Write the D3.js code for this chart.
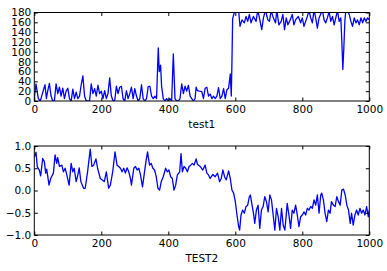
<!DOCTYPE html>
<html><head><meta charset="utf-8">
<script src="https://cdn.jsdelivr.net/npm/d3@7/dist/d3.min.js"></script>
<style>
body{margin:0;background:#fff}
svg{display:block}
text{font-family:"DejaVu Sans",sans-serif;font-size:10.5px;fill:#000}
</style>
</head><body>
<svg id="c" width="387" height="271"></svg>
<script>
const test1X = [0,5,8,12,18,22,28,32,36,40,45,50,55,60,65,70,75,80,85,90,95,100,105,110,115,120,125,130,135,140,145,150,155,160,165,170,175,180,185,190,195,200,205,210,215,220,225,230,235,240,245,250,255,260,265,270,275,280,285,290,295,300,305,310,315,320,325,330,335,340,345,350,355,360,365,370,373,377,380,385,390,395,400,405,410,415,418,420,425,430,435,440,445,450,455,460,465,470,475,480,483,487,493,500,505,510,515,520,525,530,535,540,545,550,555,560,565,570,575,580,585,588,590,592,595,598,602,605,610,614,620,627,632,637,642,647,654,662,667,672,679,684,690,697,702,707,712,720,724,730,737,742,747,752,757,764,770,775,780,788,795,800,805,810,815,820,825,830,835,840,845,850,860,865,870,875,880,885,890,895,900,905,910,915,918,921,924,927,930,935,940,945,950,955,960,965,970,975,980,985,990,995,1000];
const test1Y = [5,35,22,5,0,10,24,33,5,20,36,10,0,0,35,15,28,10,26,5,20,26,5,0,24,5,18,5,10,33,51,10,0,0,0,35,15,25,10,32,15,20,5,21,5,15,47,10,0,0,30,15,28,30,5,0,21,5,15,28,5,25,10,0,5,33,5,0,5,29,30,10,5,10,5,108,60,73,30,5,0,5,0,5,0,96,40,5,0,0,5,35,15,30,20,32,10,5,0,5,28,21,20,19,5,26,28,10,14,5,10,5,10,27,5,10,25,5,23,26,55,10,80,167,175,182,188,185,183,152,165,159,172,162,176,159,172,162,185,169,145,169,185,165,162,184,172,159,185,155,162,176,145,169,155,165,176,155,165,172,159,169,152,162,172,184,169,159,185,169,148,169,185,165,159,169,182,162,172,155,169,184,162,169,121,64,108,162,185,185,176,162,152,169,159,165,155,169,159,169,162,169,165];

const test2X = [0,5,9,15,19,25,30,34,37,44,49,57,62,67,70,75,82,87,92,97,104,110,115,119,125,130,134,139,147,152,159,167,172,177,184,189,197,202,209,215,222,227,234,241,247,252,257,262,267,272,277,282,287,290,297,302,307,312,317,323,329,334,338,344,349,354,359,364,369,374,379,385,392,397,402,407,412,417,422,427,434,438,442,447,452,457,462,467,472,477,483,487,495,503,510,515,520,525,533,540,547,553,558,563,568,573,580,585,590,595,600,605,610,613,617,622,627,632,637,642,645,650,655,658,663,668,673,678,683,688,693,698,703,708,713,718,723,728,733,738,743,748,755,760,765,770,775,780,785,790,795,800,805,810,815,820,825,830,835,840,845,850,855,858,863,868,873,878,883,887,893,898,903,908,913,918,923,928,933,938,943,947,952,957,962,967,972,977,982,987,992,997,1000];
const test2Y = [0.75,0.86,0.53,0.46,0.33,0.72,0.65,0.39,0.48,0.12,0.27,0.39,0.8,0.61,0.74,0.54,0.57,0.42,0.5,0.35,0.12,0.61,0.42,0.5,0.2,0.35,0.51,0.2,0.05,0.05,0.42,0.93,0.54,0.57,0.71,0.5,0.27,0.24,0.2,0.42,0.05,0.12,0.42,0.87,0.57,0.54,0.5,0.42,0.5,0.39,0.51,0.42,0.27,0.12,0.5,0.54,0.46,0.5,0.35,0.08,0.42,0.69,0.87,0.57,0.61,0.5,0.46,0.31,0.05,0.01,0.2,0.31,0.5,0.42,0.46,0.31,0.27,0.01,0.12,0.35,0.42,0.83,0.42,0.54,0.5,0.42,0.54,0.57,0.61,0.57,0.71,0.59,0.54,0.46,0.57,0.39,0.35,0.27,0.36,0.31,0.39,0.2,0.27,0.46,0.31,0.24,0.44,0.27,0.01,-0.06,-0.25,-0.55,-0.81,-0.89,-0.55,-0.44,-0.51,-0.36,-0.33,-0.14,-0.1,-0.33,-0.55,-0.74,-0.44,-0.33,-0.85,-0.44,-0.36,-0.14,-0.25,-0.48,-0.1,-0.21,-0.55,-0.89,-0.4,-0.59,-0.89,-0.4,-0.78,-0.89,-0.29,-0.55,-0.85,-0.44,-0.51,-0.33,-0.55,-0.81,-0.59,-0.55,-0.48,-0.55,-0.4,-0.44,-0.36,-0.4,-0.21,-0.33,-0.1,-0.51,-0.1,-0.06,-0.21,-0.51,-0.7,-0.44,-0.51,-0.25,-0.33,-0.36,-0.14,-0.25,-0.33,0.01,0.03,-0.1,-0.33,-0.44,-0.74,-0.51,-0.78,-0.55,-0.44,-0.55,-0.4,-0.51,-0.44,-0.55,-0.36,-0.59,-0.44];

const xTicks = [0,200,400,600,800,1000];
const test1Ticks = [0,20,40,60,80,100,120,140,160,180];
const test2Ticks = [-1,-0.5,0,0.5,1];
const test1Label = "test1";
const test2Label = "TEST2";

const svg = d3.select("#c");
const left = 34.3, right = 369.3;

function panel(id, top, bottom, xs, ys, domain, ticks, fmt, label, labelY){
  const x = d3.scaleLinear().domain([0,1000]).range([left,right]);
  const y = d3.scaleLinear().domain(domain).range([bottom,top]);
  svg.append("clipPath").attr("id",id).append("rect")
    .attr("x",left).attr("y",top).attr("width",right-left).attr("height",bottom-top);
  const data = xs.map((v,i)=>[v,ys[i]]);
  svg.append("path").datum(data)
    .attr("clip-path",`url(#${id})`)
    .attr("fill","none").attr("stroke","#0000ff").attr("stroke-width",1.3)
    .attr("stroke-linejoin","round")
    .attr("d", d3.line().x(d=>x(d[0])).y(d=>y(d[1])));
  const ts = 3.5;
  const gb = svg.append("g").attr("transform",`translate(0,${bottom})`)
    .call(d3.axisBottom(x).tickValues(xTicks).tickSizeInner(-ts).tickSizeOuter(0).tickPadding(5).tickFormat(d3.format("d")));
  const gt = svg.append("g").attr("transform",`translate(0,${top})`)
    .call(d3.axisTop(x).tickValues(xTicks).tickSizeInner(-ts).tickSizeOuter(0).tickFormat(""));
  const gl = svg.append("g").attr("transform",`translate(${left},0)`)
    .call(d3.axisLeft(y).tickValues(ticks).tickSizeInner(-ts).tickSizeOuter(0).tickPadding(3).tickFormat(fmt));
  const gr = svg.append("g").attr("transform",`translate(${right},0)`)
    .call(d3.axisRight(y).tickValues(ticks).tickSizeInner(-ts).tickSizeOuter(0).tickFormat(""));
  [gb,gt,gl,gr].forEach(g=>{
    g.select(".domain").remove();
    g.selectAll("line").attr("stroke","#000");
    g.selectAll("text").attr("font-family","DejaVu Sans").attr("font-size",10.5).attr("fill","#000");
  });
  svg.append("rect").attr("x",left).attr("y",top).attr("width",right-left).attr("height",bottom-top)
    .attr("fill","none").attr("stroke","#000").attr("stroke-width",1);
  svg.append("text").attr("x",(left+right)/2).attr("y",labelY).attr("text-anchor","middle").text(label);
}

const f2 = v => (v<0?"\u2212":"") + Math.abs(v).toFixed(1);
panel("c1", 12.5, 101, test1X, test1Y, [0,180], test1Ticks, d3.format("d"), test1Label, 127.5);
panel("c2", 146, 235, test2X, test2Y, [-1,1], test2Ticks, f2, test2Label, 262);
</script>
</body></html>
